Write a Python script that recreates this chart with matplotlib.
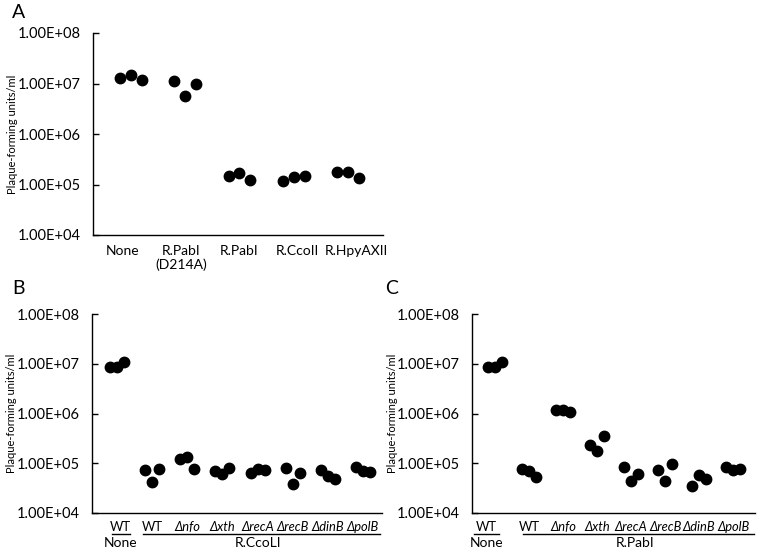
import matplotlib
matplotlib.use("Agg")
import matplotlib.pyplot as plt
import numpy as np
import matplotlib.transforms as mtransforms
from matplotlib.ticker import FixedLocator, FuncFormatter, NullLocator

plt.rcParams['font.family'] = ['Lato', 'DejaVu Sans']

# ---------------- data ----------------
A_categories = ["None", "R.PabI\n(D214A)", "R.PabI", "R.CcoII", "R.HpyAXII"]
A_values = [
    [1.29e7, 1.47e7, 1.17e7],
    [1.12e7, 5.6e6, 1.0e7],
    [1.47e5, 1.70e5, 1.23e5],
    [1.17e5, 1.40e5, 1.47e5],
    [1.78e5, 1.80e5, 1.35e5],
]

strain_labels = ["WT", "WT", "Δnfo", "Δxth", "ΔrecA", "ΔrecB", "ΔdinB", "ΔpolB"]
group_labels_B = ["None", "R.CcoLI"]
group_labels_C = ["None", "R.PabI"]

B_values = [
    [8.6e6, 8.8e6, 1.08e7],
    [7.3e4, 4.2e4, 7.6e4],
    [1.22e5, 1.33e5, 7.6e4],
    [7.0e4, 6.0e4, 7.9e4],
    [6.3e4, 7.6e4, 7.3e4],
    [7.9e4, 3.8e4, 6.3e4],
    [7.3e4, 5.5e4, 4.8e4],
    [8.4e4, 7.0e4, 6.7e4],
]

C_values = [
    [8.6e6, 8.8e6, 1.08e7],
    [7.6e4, 7.0e4, 5.3e4],
    [1.17e6, 1.20e6, 1.05e6],
    [2.33e5, 1.76e5, 3.5e5],
    [8.4e4, 4.4e4, 6.0e4],
    [7.3e4, 4.4e4, 9.7e4],
    [3.5e4, 5.8e4, 4.8e4],
    [8.4e4, 7.3e4, 7.6e4],
]

# ---------------- figure ----------------
W, H = 761, 555
fig = plt.figure(figsize=(W / 100, H / 100), dpi=100)


def add_axes(l, r, t, b):
    return fig.add_axes([l / W, 1 - b / H, (r - l) / W, (b - t) / H])


def style(ax):
    ax.set_yscale('log')
    ax.set_ylim(1e4, 1e8)
    ax.yaxis.set_major_locator(FixedLocator([1e4, 1e5, 1e6, 1e7, 1e8]))
    ax.yaxis.set_minor_locator(NullLocator())
    ax.yaxis.set_major_formatter(FuncFormatter(lambda v, p: f"{v:.2E}"))
    for s in ['top', 'right']:
        ax.spines[s].set_visible(False)
    for s in ['left', 'bottom']:
        ax.spines[s].set_linewidth(1.0)
        ax.spines[s].set_color('black')
    ax.tick_params(axis='y', direction='in', length=4, width=1, pad=9,
                   labelsize=10.5, colors='black')
    ax.tick_params(axis='x', length=0)


def dots(ax, values, jitter):
    offsets = np.array([-jitter, 0.0, jitter])
    for i, vals in enumerate(values):
        ax.plot(i + offsets, vals, 'o', color='black', markersize=7.5,
                linestyle='none', clip_on=False, zorder=3)


# ---- Panel A ----
axA = add_axes(93, 383, 33, 235)
style(axA)
dots(axA, A_values, 0.2)
axA.set_xlim(-0.70, 4.645)
label_pos = 2 + (np.arange(len(A_categories)) - 2) * 1.075
axA.set_xticks(label_pos)
axA.set_xticklabels(A_categories, fontsize=10)
axA.tick_params(axis='x', pad=7)
fig.text(13 / W, 1 - 134 / H, "Plaque-forming units/ml", rotation=90,
         ha='center', va='center', fontsize=8)
fig.text(12 / W, 1 - 13 / H, "A", ha='left', va='center', fontsize=14)


def panel_bc(l, r, xlim, values, groups, wt_x, line1, line2, grp_x, ylab_x, letter, letter_x):
    ax = add_axes(l, r, 314, 513)
    style(ax)
    dots(ax, values, 0.2)
    ax.set_xlim(*xlim)
    ax.set_xticks([])
    h = 513 - 314
    trans = mtransforms.blended_transform_factory(ax.transData, ax.transAxes)
    y1 = -(527 - 513) / h
    yl = -(534 - 513) / h
    y2 = -(543 - 513) / h
    for i, lab in enumerate(strain_labels):
        x = wt_x if i == 0 else i
        style_ = 'normal' if lab == "WT" else 'italic'
        ax.text(x, y1, lab, transform=trans, ha='center', va='center',
                fontsize=9.3, fontstyle=style_, clip_on=False)
    ax.plot(line1, [yl, yl], transform=trans, color='black', lw=1, clip_on=False)
    ax.plot(line2, [yl, yl], transform=trans, color='black', lw=1, clip_on=False)
    ax.text(wt_x, y2, groups[0], transform=trans, ha='center', va='center',
            fontsize=10, clip_on=False)
    ax.text(grp_x, y2, groups[1], transform=trans, ha='center',
            va='center', fontsize=10, clip_on=False)
    fig.text(ylab_x / W, 1 - 413.5 / H, "Plaque-forming units/ml", rotation=90,
             ha='center', va='center', fontsize=8)
    fig.text(letter_x / W, 1 - 289 / H, letter, ha='left', va='center', fontsize=14)
    return ax


panel_bc(92, 382, (-0.71, 7.54), B_values, group_labels_B, 0.1,
         [-0.13, 0.37], [0.74, 7.48], 4.0, 12, "B", 12)
panel_bc(472, 755, (-0.68, 7.64), C_values, group_labels_C, -0.25,
         [-0.62, 0.12], [0.83, 7.62], 4.1, 392, "C", 385)

fig.savefig("out.png", dpi=100)
